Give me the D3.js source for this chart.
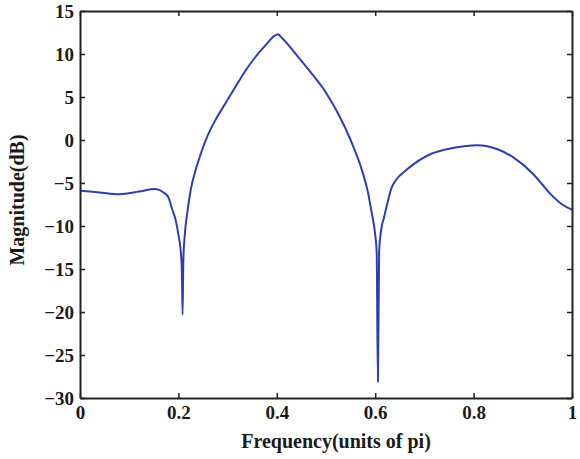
<!DOCTYPE html>
<html lang="en">
  <head>
    <meta charset="UTF-8">
    <title>Magnitude response</title>
    <script src="https://d3js.org/d3.v7.min.js"></script>
    <style>
      body { margin: 0; background: #fff; }
      svg { display: block; }
      .tick text, .lbl {
        font-family: "Liberation Serif", "Times New Roman", serif;
        font-weight: bold;
        fill: #1a1a1a;
      }
    </style>
  </head>
  <body>
    <svg id="chart" width="580" height="459"></svg>
    <script>
    // frequency in units of pi, magnitude in dB
    var freq = [0, 0.04, 0.08, 0.12, 0.153, 0.17, 0.18, 0.187, 0.194, 0.2, 0.204, 0.207, 0.2085, 0.21, 0.213, 0.218, 0.225, 0.235, 0.245, 0.255, 0.265, 0.276, 0.296, 0.316, 0.338, 0.36, 0.38, 0.395, 0.402, 0.41, 0.44, 0.467, 0.5, 0.528, 0.55, 0.573, 0.585, 0.593, 0.6, 0.603, 0.6055, 0.608, 0.612, 0.618, 0.625, 0.633, 0.643, 0.663, 0.714, 0.76, 0.806, 0.85, 0.88, 0.92, 0.94, 0.96, 0.98, 1];
    var mag = [-5.9, -6.1, -6.3, -6.0, -5.7, -6.1, -6.7, -8.0, -9.2, -11, -12.5, -15, -20.3, -14, -11, -8.5, -5.8, -3.5, -1.7, -0.1, 1.2, 2.4, 4.3, 6.2, 8.2, 9.9, 11.2, 12.1, 12.3, 11.9, 9.9, 8.0, 5.5, 2.7, 0.0, -3.5, -6, -8.5, -11, -13, -28.1, -13, -10.5, -9, -7.3, -5.6, -4.6, -3.5, -1.6, -0.9, -0.6, -1.1, -2.0, -3.9, -5.2, -6.5, -7.5, -8.1];
    var xTicks = [0, 0.2, 0.4, 0.6, 0.8, 1];
    var yTicks = [-30, -25, -20, -15, -10, -5, 0, 5, 10, 15];

    var svg = d3.select('#chart');
    var m = {left: 80, right: 8, top: 11, bottom: 61};
    var w = 580 - m.left - m.right, h = 459 - m.top - m.bottom;

    var x = d3.scaleLinear().domain([0, 1]).range([m.left, m.left + w]);
    var y = d3.scaleLinear().domain([-30, 15]).range([m.top + h, m.top]);

    var pts = freq.map((f, i) => [f, mag[i]]);

    svg.append('path')
      .datum(pts)
      .attr('fill', 'none')
      .attr('stroke', '#2e3db3')
      .attr('stroke-width', 2)
      .attr('stroke-linejoin', 'round')
      .attr('d', d3.line().x(d => x(d[0])).y(d => y(d[1])).curve(d3.curveMonotoneX));

    function fmt(v){ return v === 0 || v === 1 ? String(v) : d3.format('.1f')(v); }

    var gx = svg.append('g').attr('transform', 'translate(0,' + (m.top + h) + ')')
      .call(d3.axisBottom(x).tickValues(xTicks).tickSizeInner(-5).tickSizeOuter(0).tickPadding(8).tickFormat(fmt));
    var gxt = svg.append('g').attr('transform', 'translate(0,' + m.top + ')')
      .call(d3.axisTop(x).tickValues(xTicks).tickSizeInner(-5).tickSizeOuter(0).tickFormat(''));
    var gy = svg.append('g').attr('transform', 'translate(' + m.left + ',0)')
      .call(d3.axisLeft(y).tickValues(yTicks).tickSizeInner(-5).tickSizeOuter(0).tickPadding(6));
    var gyr = svg.append('g').attr('transform', 'translate(' + (m.left + w) + ',0)')
      .call(d3.axisRight(y).tickValues(yTicks).tickSizeInner(-5).tickSizeOuter(0).tickFormat(''));

    [gx, gxt, gy, gyr].forEach(g => {
      g.select('.domain').attr('stroke', '#222').attr('stroke-width', 2);
      g.selectAll('.tick line').attr('stroke', '#222').attr('stroke-width', 1.5);
      g.selectAll('.tick text').attr('font-size', 19);
    });

    svg.append('text').attr('class', 'lbl')
      .attr('x', m.left + w / 2 + 10).attr('y', 448)
      .attr('text-anchor', 'middle').attr('font-size', 20)
      .text('Frequency(units of pi)');

    svg.append('text').attr('class', 'lbl')
      .attr('transform', 'translate(24,' + 200 + ') rotate(-90)')
      .attr('text-anchor', 'middle').attr('font-size', 20)
      .text('Magnitude(dB)');
    </script>
  </body>
</html>
